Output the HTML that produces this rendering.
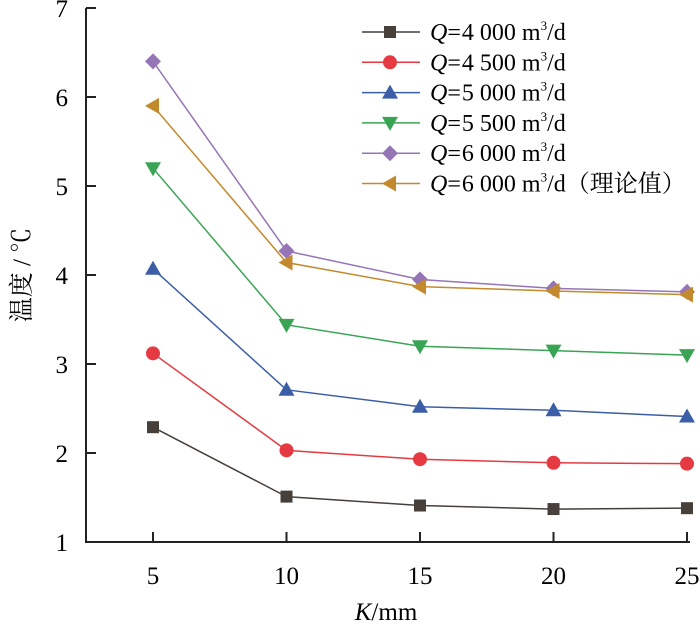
<!DOCTYPE html>
<html><head><meta charset="utf-8"><style>
body{margin:0;background:#fff}
svg{display:block;font-family:"Liberation Serif","Noto Serif CJK SC",serif}
</style></head><body>
<svg id="c" width="700" height="626"></svg>
<script>
const categories=[5,10,15,20,25];
const s4000=[2.29,1.51,1.41,1.37,1.38];
const s4500=[3.12,2.03,1.93,1.89,1.88];
const s5000=[4.07,2.71,2.52,2.48,2.41];
const s5500=[5.2,3.44,3.2,3.15,3.1];
const s6000=[6.4,4.27,3.95,3.85,3.81];
const s6000t=[5.9,4.14,3.87,3.82,3.78];
const yTicks=[1,2,3,4,5,6,7];
const labels=["4 000","4 500","5 000","5 500","6 000","6 000"];
const NS="http://www.w3.org/2000/svg";
const svg=document.getElementById('c');
const X=v=>153+(v-5)*(687-153)/20;
const Y=v=>542-(v-1)*89;
function el(t,a,p){const e=document.createElementNS(NS,t);for(const k in a)e.setAttribute(k,a[k]);(p||svg).appendChild(e);return e;}
const ax=el('g',{});


el('path',{d:`M86 ${Y(7)} V542 H690`,stroke:'#222',fill:'none','stroke-width':2},ax);
yTicks.forEach(t=>{el('line',{x1:86,x2:96,y1:Y(t),y2:Y(t),stroke:'#222','stroke-width':2},ax);
const tx=el('text',{x:68,y:Y(t)+9,'font-size':25,'text-anchor':'end'},ax);tx.textContent=t;

});
categories.forEach(c=>{el('line',{x1:X(c),x2:X(c),y1:542,y2:532,stroke:'#222','stroke-width':2},ax);
const tx=el('text',{x:X(c),y:584,'font-size':25,'text-anchor':'middle'},ax);tx.textContent=c;

});
const xt=el('text',{x:386,y:620,'font-size':25,'text-anchor':'middle'});
xt.innerHTML='<tspan font-style="italic">K</tspan>/mm';


const yt=el('text',{x:0,y:0,'font-size':25,'text-anchor':'middle',transform:'translate(30,275) rotate(-90)'});
yt.textContent='温度 / ℃';


function marker(g,type,x,y,col){
 if(type==='sq')el('rect',{x:x-6,y:y-6,width:12,height:12,fill:col},g);
 else if(type==='ci')el('circle',{cx:x,cy:y,r:7,fill:col},g);
 else if(type==='up')el('polygon',{points:`${x},${y-8} ${x-8},${y+6} ${x+8},${y+6}`,fill:col},g);
 else if(type==='dn')el('polygon',{points:`${x},${y+8} ${x-8},${y-6} ${x+8},${y-6}`,fill:col},g);
 else if(type==='di')el('polygon',{points:`${x},${y-8} ${x+8},${y} ${x},${y+8} ${x-8},${y}`,fill:col},g);
 else el('polygon',{points:`${x-8},${y} ${x+6},${y-8} ${x+6},${y+8}`,fill:col},g);
}
const series=[[s4000,'#473f3a','sq','series-4000'],[s4500,'#e63a42','ci','series-4500'],[s5000,'#3b5ea6','up','series-5000'],[s5500,'#3aa455','dn','series-5500'],[s6000,'#9575b5','di','series-6000'],[s6000t,'#c28a2c','lt','series-6000-theory']];
series.forEach((s,i)=>{
 const g=el('g',{});
 
 
 el('polyline',{points:s[0].map((v,j)=>X(categories[j])+','+Y(v)).join(' '),fill:'none',stroke:s[1],'stroke-width':1.5},g);
 s[0].forEach((v,j)=>marker(g,s[2],X(categories[j]),Y(v),s[1]));
 const ly=32+i*30.3;
 const lg=el('g',{});
 
 
 el('line',{x1:362,x2:420,y1:ly,y2:ly,stroke:s[1],'stroke-width':1.5},lg);
 marker(lg,s[2],390,ly,s[1]);
 const t=el('text',{x:430,y:ly+8,'font-size':24},lg);
 t.innerHTML='<tspan font-style="italic">Q</tspan>=<tspan dx="1">'+labels[i]+'</tspan> m<tspan font-size="13" dy="-10">3</tspan><tspan dy="10">/d</tspan>'+(i===5?'（理论值）':'');
});
</script>
</body></html>
